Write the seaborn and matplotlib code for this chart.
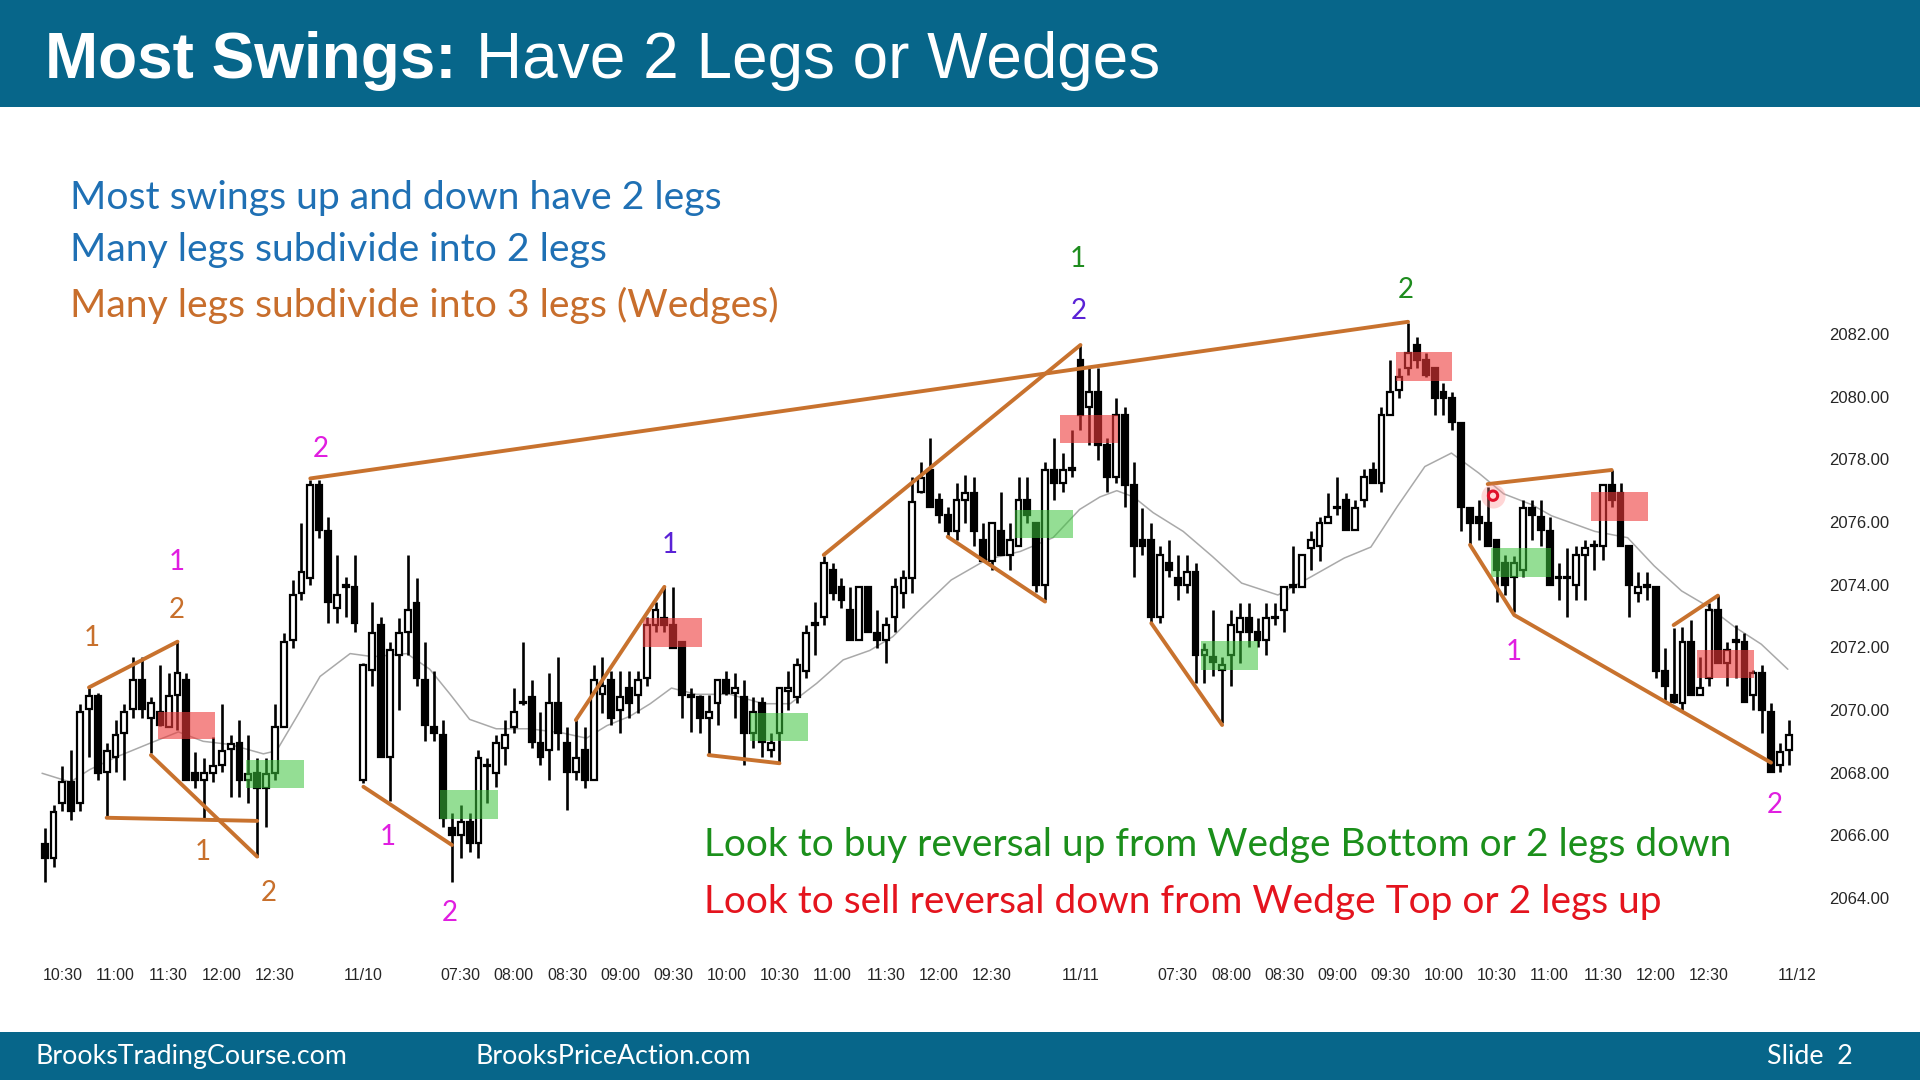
import matplotlib
matplotlib.use("Agg")
import numpy as np
import pandas as pd
import matplotlib.pyplot as plt
from matplotlib.patches import Rectangle
import seaborn as sns

# ---- 5 min bars, 3 sessions (bar index = position on chart) ----
opens = [
    2065.73, 2065.27, 2067.02, 2067.71, 2067.02, 2070.03, 2070.45, 2068.03, 2068.51, 2069.25,
    2070.03, 2070.96, 2069.74, 2069.95, 2069.47, 2070.48, 2070.96, 2067.98, 2067.77, 2068.00,
    2068.25, 2068.75, 2068.94, 2067.77, 2067.98, 2067.50, 2067.98, 2069.47, 2072.24, 2073.73,
    2074.20, 2077.18, 2075.70, 2073.25, 2073.94, 2073.94,
    2067.77, 2071.28, 2072.72, 2068.51, 2071.76, 2072.50, 2073.43, 2070.96, 2069.47, 2069.20,
    2066.23, 2066.01, 2066.44, 2065.75, 2068.20, 2067.98, 2068.78, 2069.47, 2070.22, 2070.43,
    2068.94, 2068.73, 2070.22, 2068.94, 2068.03, 2068.73, 2067.77, 2070.50, 2070.96, 2070.00,
    2070.69, 2070.48, 2071.01, 2072.72, 2072.93, 2072.72, 2072.18, 2070.43, 2070.43, 2069.74,
    2070.22, 2070.96, 2070.54, 2070.43, 2069.26, 2070.22, 2068.73, 2069.26, 2070.60, 2070.43,
    2071.23, 2072.72, 2072.98, 2074.47, 2073.94, 2073.20, 2072.24, 2073.94, 2072.45, 2072.24,
    2072.98, 2073.73, 2074.20, 2076.97, 2077.66, 2076.70, 2076.23, 2075.70, 2076.70, 2076.92,
    2075.43, 2074.74, 2075.70, 2074.95, 2075.22, 2076.70, 2075.96, 2074.00, 2077.66, 2077.24,
    2077.66,
    2081.17, 2079.68, 2080.16, 2078.46, 2077.45, 2079.42, 2077.19, 2075.43, 2075.43, 2072.98,
    2074.68, 2074.20, 2074.00, 2074.42, 2071.76, 2071.70, 2071.28, 2071.76, 2072.50, 2072.93,
    2072.50, 2072.24, 2072.93, 2073.20, 2073.94, 2073.94, 2075.17, 2075.22, 2075.96, 2076.44,
    2076.70, 2075.75, 2076.70, 2077.66, 2077.24, 2079.42, 2080.22, 2080.90, 2081.65, 2081.17,
    2080.90, 2080.16, 2079.95, 2079.15, 2076.44, 2076.17, 2075.96, 2075.43, 2074.68, 2074.26,
    2074.47, 2076.44, 2076.17, 2075.70, 2074.20, 2074.20, 2073.99, 2074.95, 2075.22, 2075.22,
    2077.18, 2076.92, 2075.22, 2073.73, 2073.94, 2073.94, 2071.23, 2070.48, 2070.22, 2072.18,
    2070.48, 2071.01, 2073.19, 2071.49, 2072.18, 2072.18, 2070.48, 2071.17, 2069.95, 2068.25,
    2068.73,
]
highs = [
    2066.23, 2066.97, 2068.20, 2068.73, 2070.20, 2070.70, 2070.54, 2068.94, 2069.68, 2070.20,
    2071.70, 2071.70, 2070.43, 2071.44, 2071.17, 2072.18, 2071.17, 2068.67, 2068.46, 2069.15,
    2070.20, 2069.20, 2069.68, 2069.20, 2068.46, 2068.46, 2070.20, 2072.45, 2074.15, 2075.96,
    2077.34, 2077.34, 2076.17, 2074.95, 2074.26, 2074.95,
    2071.50, 2073.46, 2072.98, 2072.18, 2072.93, 2074.95, 2074.20, 2072.18, 2071.23, 2069.68,
    2066.70, 2066.97, 2066.70, 2068.73, 2068.46, 2069.20, 2069.68, 2070.70, 2072.18, 2070.96,
    2069.95, 2071.17, 2071.70, 2069.47, 2069.68, 2069.47, 2071.44, 2071.70, 2071.23, 2071.23,
    2071.23, 2071.23, 2072.98, 2073.46, 2073.94, 2073.94, 2072.18, 2070.69, 2070.48, 2070.48,
    2070.96, 2071.23, 2071.17, 2070.96, 2070.43, 2070.43, 2069.26, 2070.69, 2071.23, 2071.65,
    2072.72, 2073.46, 2074.90, 2074.68, 2074.20, 2073.94, 2073.94, 2073.94, 2073.20, 2072.98,
    2074.20, 2074.47, 2077.45, 2077.93, 2078.67, 2076.92, 2076.49, 2077.24, 2077.50, 2077.45,
    2075.96, 2075.96, 2076.97, 2075.96, 2077.45, 2077.45, 2075.96, 2077.93, 2078.67, 2078.20,
    2078.94,
    2081.65, 2080.90, 2080.90, 2078.67, 2079.95, 2079.68, 2077.93, 2076.44, 2075.96, 2075.22,
    2075.43, 2074.95, 2074.95, 2074.68, 2072.13, 2073.20, 2071.70, 2073.20, 2073.41, 2073.41,
    2072.93, 2073.41, 2073.41, 2073.94, 2075.22, 2074.95, 2075.70, 2076.17, 2076.92, 2077.45,
    2076.92, 2076.70, 2077.70, 2077.93, 2079.68, 2081.17, 2080.90, 2082.34, 2081.92, 2081.39,
    2080.90, 2080.43, 2080.16, 2079.15, 2076.44, 2076.70, 2077.13, 2075.43, 2074.95, 2074.90,
    2076.70, 2076.70, 2076.70, 2076.17, 2074.68, 2075.16, 2075.22, 2075.43, 2075.43, 2077.18,
    2077.66, 2077.24, 2075.22, 2074.42, 2074.42, 2073.94, 2071.97, 2072.61, 2072.66, 2072.88,
    2071.70, 2073.41, 2073.67, 2072.18, 2072.72, 2072.45, 2071.28, 2071.44, 2070.22, 2068.94,
    2069.68,
]
lows = [
    2064.52, 2065.00, 2066.76, 2066.50, 2066.76, 2068.50, 2067.77, 2066.55, 2068.03, 2067.77,
    2069.74, 2069.74, 2068.62, 2069.50, 2069.47, 2069.37, 2067.77, 2067.50, 2066.55, 2067.70,
    2068.03, 2067.23, 2067.23, 2067.02, 2065.32, 2066.28, 2067.77, 2069.47, 2071.97, 2073.51,
    2073.99, 2075.48, 2072.77, 2072.77, 2072.98, 2072.50,
    2067.66, 2070.75, 2068.51, 2067.08, 2070.00, 2071.76, 2070.75, 2069.00, 2069.00, 2066.28,
    2064.52, 2065.27, 2065.48, 2065.27, 2067.02, 2067.55, 2068.25, 2069.26, 2070.16, 2068.78,
    2068.25, 2067.77, 2068.73, 2066.81, 2067.77, 2067.50, 2067.77, 2069.90, 2069.52, 2069.26,
    2069.74, 2069.90, 2070.75, 2072.50, 2072.50, 2071.97, 2069.74, 2069.31, 2069.26, 2068.57,
    2069.52, 2070.48, 2069.74, 2068.25, 2068.78, 2068.51, 2068.51, 2068.30, 2070.00, 2070.22,
    2071.01, 2071.76, 2072.72, 2073.51, 2073.25, 2072.24, 2072.24, 2072.50, 2071.97, 2071.49,
    2072.50, 2073.25, 2073.73, 2076.92, 2076.49, 2075.96, 2075.53, 2075.43, 2075.96, 2075.22,
    2074.74, 2074.47, 2074.95, 2074.47, 2075.22, 2075.96, 2073.78, 2073.51, 2076.70, 2076.97,
    2077.45,
    2078.94, 2078.46, 2077.98, 2076.97, 2077.24, 2076.49, 2074.26, 2074.95, 2072.77, 2072.77,
    2074.26, 2073.51, 2073.73, 2070.85, 2070.85, 2071.07, 2069.58, 2070.75, 2071.49, 2072.02,
    2072.02, 2071.76, 2072.72, 2072.50, 2073.73, 2073.94, 2074.47, 2074.74, 2075.96, 2076.23,
    2075.75, 2075.75, 2076.49, 2077.24, 2076.97, 2079.42, 2079.95, 2080.70, 2080.90, 2080.64,
    2079.42, 2079.42, 2078.94, 2075.70, 2075.27, 2075.43, 2075.22, 2073.46, 2073.67, 2073.14,
    2074.26, 2075.43, 2075.22, 2073.99, 2073.51, 2072.98, 2073.51, 2073.51, 2074.47, 2074.79,
    2076.49, 2075.22, 2072.98, 2073.46, 2073.51, 2071.01, 2070.32, 2070.22, 2070.00, 2070.48,
    2070.48, 2070.75, 2071.49, 2070.75, 2071.01, 2070.27, 2070.00, 2069.26, 2068.03, 2068.03,
    2068.25,
]
closes = [
    2065.27, 2066.73, 2067.71, 2066.76, 2069.95, 2070.45, 2067.98, 2068.70, 2069.20, 2069.95,
    2070.96, 2070.03, 2070.22, 2069.52, 2070.45, 2071.17, 2067.77, 2067.77, 2067.98, 2068.20,
    2068.70, 2068.92, 2067.77, 2067.95, 2067.50, 2067.95, 2069.47, 2072.18, 2073.67, 2074.42,
    2077.18, 2075.75, 2073.46, 2073.67, 2073.94, 2072.77,
    2071.44, 2072.45, 2068.51, 2071.92, 2072.45, 2073.19, 2071.01, 2069.52, 2069.26, 2066.55,
    2066.01, 2066.44, 2065.75, 2068.46, 2068.20, 2068.94, 2069.20, 2069.95, 2070.22, 2068.99,
    2068.51, 2070.22, 2069.26, 2068.03, 2068.46, 2067.77, 2070.96, 2070.75, 2069.74, 2070.43,
    2070.22, 2070.96, 2072.72, 2073.20, 2072.72, 2071.97, 2070.48, 2070.43, 2069.74, 2069.95,
    2070.96, 2070.54, 2070.69, 2069.26, 2069.95, 2068.99, 2068.94, 2070.69, 2070.69, 2071.44,
    2072.45, 2072.72, 2074.68, 2073.73, 2073.51, 2072.24, 2073.94, 2072.50, 2072.24, 2072.72,
    2073.94, 2074.20, 2076.65, 2077.40, 2076.49, 2076.23, 2075.70, 2076.70, 2076.92, 2075.70,
    2074.74, 2075.96, 2074.95, 2075.43, 2076.70, 2076.23, 2074.00, 2077.66, 2077.24, 2077.66,
    2077.66,
    2079.42, 2080.16, 2078.46, 2077.45, 2079.42, 2077.19, 2075.22, 2075.22, 2072.98, 2074.95,
    2074.47, 2074.00, 2074.42, 2071.76, 2071.92, 2071.54, 2071.44, 2072.72, 2072.93, 2072.50,
    2072.24, 2072.93, 2072.93, 2073.94, 2073.94, 2074.95, 2075.43, 2075.96, 2076.17, 2076.44,
    2075.75, 2076.44, 2077.45, 2077.24, 2079.42, 2080.16, 2080.64, 2081.39, 2081.17, 2080.70,
    2079.95, 2079.95, 2079.20, 2076.49, 2075.96, 2075.96, 2075.22, 2074.47, 2074.00, 2074.68,
    2076.44, 2076.23, 2075.75, 2073.99, 2074.20, 2074.20, 2074.95, 2075.16, 2075.22, 2077.18,
    2076.70, 2075.22, 2073.99, 2073.94, 2073.94, 2071.23, 2070.75, 2070.27, 2072.18, 2070.48,
    2070.69, 2073.19, 2071.49, 2071.92, 2072.18, 2070.27, 2071.17, 2070.00, 2068.03, 2068.67,
    2069.20,
]

# 20 bar EMA
ema_bar = [-0.3, 2.9, 5.1, 8.1, 11.9, 15.1, 17.9, 20.9, 24.7, 26.2, 28.5, 31.1, 34.5, 37.1,
           40.9, 43.5, 45.8, 48.0, 51.0, 54.8, 58.6, 61.2, 63.5, 66.1, 68.4, 70.8, 73.6,
           77.4, 81.2, 84.2, 87.2, 90.2, 93.2, 95.8, 98.5, 102.4, 106.4, 110.2, 113.9,
           116.9, 119.2, 121.1, 123.0, 125.2, 128.6, 131.9, 135.2, 139.3, 143.1, 146.8,
           149.8, 152.8, 155.9, 158.9, 162.0, 164.8, 168.0, 170.2, 175.1, 178.8, 181.8,
           184.9, 187.9, 190.9, 193.9, 196.9]
ema_val = [2067.98, 2067.70, 2068.10, 2068.50, 2068.94, 2069.30, 2069.00, 2068.90, 2068.60,
           2068.70, 2069.80, 2071.07, 2071.80, 2071.70, 2071.80, 2071.30, 2070.50, 2069.70,
           2069.40, 2069.40, 2069.26, 2069.10, 2069.50, 2069.80, 2070.20, 2070.70, 2070.50,
           2070.50, 2070.20, 2070.20, 2070.85, 2071.60, 2071.90, 2072.34, 2073.10, 2074.15,
           2074.80, 2075.06, 2075.50, 2076.40, 2076.80, 2077.00, 2076.80, 2076.30, 2075.70,
           2074.90, 2074.05, 2073.67, 2074.26, 2074.85, 2075.20, 2076.50, 2077.77, 2078.20,
           2077.56, 2076.90, 2076.55, 2076.20, 2075.70, 2075.50, 2074.60, 2073.80, 2073.30,
           2072.65, 2072.10, 2071.30]

# swing / wedge lines (bar, price)
swing_lines = [
    [(5, 2070.72), (15, 2072.18)],
    [(7, 2066.56), (24, 2066.46)],
    [(12, 2068.56), (24, 2065.32)],
    [(30, 2077.39), (154, 2082.39)],
    [(36, 2067.55), (46, 2065.69)],
    [(60, 2069.68), (70, 2073.93)],
    [(75, 2068.56), (83, 2068.30)],
    [(88, 2074.95), (117, 2081.65)],
    [(102, 2075.53), (113, 2073.46)],
    [(125, 2072.77), (133, 2069.52)],
    [(163, 2077.21), (177, 2077.66)],
    [(161, 2075.27), (166, 2073.03), (195, 2068.32)],
    [(184, 2072.71), (189, 2073.65)],
]

# signal zones (start bar, end bar, low, high)
sell_zones = [(12.8, 19.2, 2069.06, 2069.94), (67.6, 74.2, 2072.02, 2072.93),
              (114.7, 121.2, 2078.51, 2079.41), (152.6, 159.0, 2080.51, 2081.42),
              (174.7, 181.1, 2076.04, 2076.97), (186.6, 193.1, 2071.01, 2071.91)]
buy_zones = [(22.7, 29.3, 2067.52, 2068.40), (44.6, 51.2, 2066.52, 2067.44),
             (79.7, 86.2, 2069.02, 2069.91), (109.6, 116.1, 2075.48, 2076.38),
             (130.6, 137.1, 2071.27, 2072.20), (163.4, 170.2, 2074.25, 2075.16)]

# leg counts: text, bar, price, colour key
leg_labels = [
    ("1", 5.3, 2072.29, "orange"), ("2", 14.9, 2073.19, "orange"),
    ("1", 14.9, 2074.73, "magenta"), ("1", 17.85, 2065.48, "orange"),
    ("2", 25.3, 2064.15, "orange"), ("2", 31.2, 2078.32, "magenta"),
    ("1", 38.8, 2065.96, "magenta"), ("2", 45.8, 2063.53, "magenta"),
    ("1", 70.6, 2075.27, "purple"), ("1", 116.7, 2084.39, "green"),
    ("2", 116.8, 2082.74, "purple"), ("2", 153.7, 2083.41, "green"),
    ("1", 165.9, 2071.86, "magenta"), ("2", 195.45, 2066.97, "magenta"),
]
marker_bar = [163.6]
marker_price = [2076.84]

x_tick_bars = [2, 8, 14, 20, 26, 36, 47, 53, 59, 65, 71, 77, 83, 89, 95, 101, 107, 117,
               128, 134, 140, 146, 152, 158, 164, 170, 176, 182, 188, 198]
x_tick_labels = ["10:30", "11:00", "11:30", "12:00", "12:30", "11/10",
                 "07:30", "08:00", "08:30", "09:00", "09:30", "10:00", "10:30", "11:00",
                 "11:30", "12:00", "12:30", "11/11",
                 "07:30", "08:00", "08:30", "09:00", "09:30", "10:00", "10:30", "11:00",
                 "11:30", "12:00", "12:30", "11/12"]
y_ticks = [2064, 2066, 2068, 2070, 2072, 2074, 2076, 2078, 2080, 2082]

TEAL = "#07668a"
ORANGE = "#c8722e"
colors = {"orange": "#c8702c", "magenta": "#e01ee0", "purple": "#5a22d6", "green": "#1e8c1e"}

sns.set_theme(style="white")
plt.rcParams["font.family"] = ["Lato", "DejaVu Sans"]

W, H = 1920, 1080
fig = plt.figure(figsize=(19.2, 10.8), dpi=100)
fig.patch.set_facecolor("white")

# header / footer bands
fig.patches.append(Rectangle((0, 1 - 107 / H), 1, 107 / H, transform=fig.transFigure,
                             facecolor=TEAL, edgecolor="none", zorder=0))
fig.patches.append(Rectangle((0, 0), 1, 48 / H, transform=fig.transFigure,
                             facecolor=TEAL, edgecolor="none", zorder=0))

ax = fig.add_axes([0, 1 - 960 / H, 1815 / W, (960 - 110) / H])
ax.patch.set_alpha(0)
ax.set_xlim(-5.05, 199.97)
ax.set_ylim(2062.02, 2089.15)

df = pd.DataFrame({"open": opens, "high": highs, "low": lows, "close": closes})
df["bar"] = np.arange(len(df))
up = df["close"] >= df["open"]

sns.lineplot(x=ema_bar, y=ema_val, ax=ax, color="#a9a9a9", linewidth=1.1, zorder=1.5)

ax.vlines(df["bar"], df["low"], df["high"], color="black", linewidth=1.9, zorder=2)
body = (df["close"] - df["open"]).abs().clip(lower=0.05)
ax.bar(df["bar"], body, bottom=df[["open", "close"]].min(axis=1), width=0.66,
       color=np.where(up, "white", "black"), edgecolor="black", linewidth=1.6, zorder=3)

for x0, x1, lo, hi in sell_zones:
    ax.add_patch(Rectangle((x0, lo), x1 - x0, hi - lo, facecolor="#ee3a3a", alpha=0.6,
                           edgecolor="none", zorder=4))
for x0, x1, lo, hi in buy_zones:
    ax.add_patch(Rectangle((x0, lo), x1 - x0, hi - lo, facecolor="#3cc43c", alpha=0.55,
                           edgecolor="none", zorder=4))

for pts in swing_lines:
    xs, ys = zip(*pts)
    ax.plot(xs, ys, color=ORANGE, linewidth=2.8, solid_capstyle="round", zorder=5)

ax.scatter(marker_bar, marker_price, s=300, color="#ff8a8a", alpha=0.35, linewidths=0, zorder=6)
ax.scatter(marker_bar, marker_price, s=45, facecolors="none", edgecolors="#e0102a",
           linewidths=2.2, zorder=7)

for txt, xb, yp, key in leg_labels:
    ax.text(xb, yp, txt, color=colors[key], fontsize=20, ha="center", va="center", zorder=8)

ax.set_xticks(x_tick_bars, x_tick_labels)
ax.set_yticks(y_ticks, [f"{v:.2f}" for v in y_ticks])
ax.yaxis.tick_right()
ax.tick_params(axis="x", length=0, pad=6, labelsize=11.5)
ax.tick_params(axis="y", length=0, pad=10, labelsize=12)
for lab in ax.get_xticklabels() + ax.get_yticklabels():
    lab.set_fontfamily("Liberation Sans")
for s in ax.spines.values():
    s.set_visible(False)
ax.grid(False)


def ftext(px, py, s, **kw):
    return fig.text(px / W, 1 - py / H, s, **kw)


# title in two weights
t1 = ftext(45, 78, "Most Swings:", color="white", fontsize=46, fontweight="bold",
           family="Liberation Sans", va="baseline")
fig.canvas.draw()
bb = t1.get_window_extent(renderer=fig.canvas.get_renderer())
fig.text(bb.x1 / W + 19 / W, 1 - 78 / H, "Have 2 Legs or Wedges", color="white", fontsize=46,
         family="Liberation Sans", va="baseline")

ftext(70, 209, "Most swings up and down have 2 legs", color="#1f70b4", fontsize=28.2, va="baseline")
ftext(70, 261, "Many legs subdivide into 2 legs", color="#1f70b4", fontsize=28.2, va="baseline")
ftext(70, 317, "Many legs subdivide into 3 legs (Wedges)", color="#c86e2c", fontsize=28.2,
      va="baseline")
ftext(704, 856, "Look to buy reversal up from Wedge Bottom or 2 legs down", color="#1b8f1b",
      fontsize=28, va="baseline")
ftext(704, 913, "Look to sell reversal down from Wedge Top or 2 legs up", color="#e4141e",
      fontsize=28, va="baseline")

ftext(36, 1064, "BrooksTradingCourse.com", color="white", fontsize=19.3, va="baseline")
ftext(475, 1064, "BrooksPriceAction.com", color="white", fontsize=19.3, va="baseline")
ftext(1767, 1064, "Slide  2", color="white", fontsize=19.3, va="baseline")

fig.savefig("out.png", dpi=100)
